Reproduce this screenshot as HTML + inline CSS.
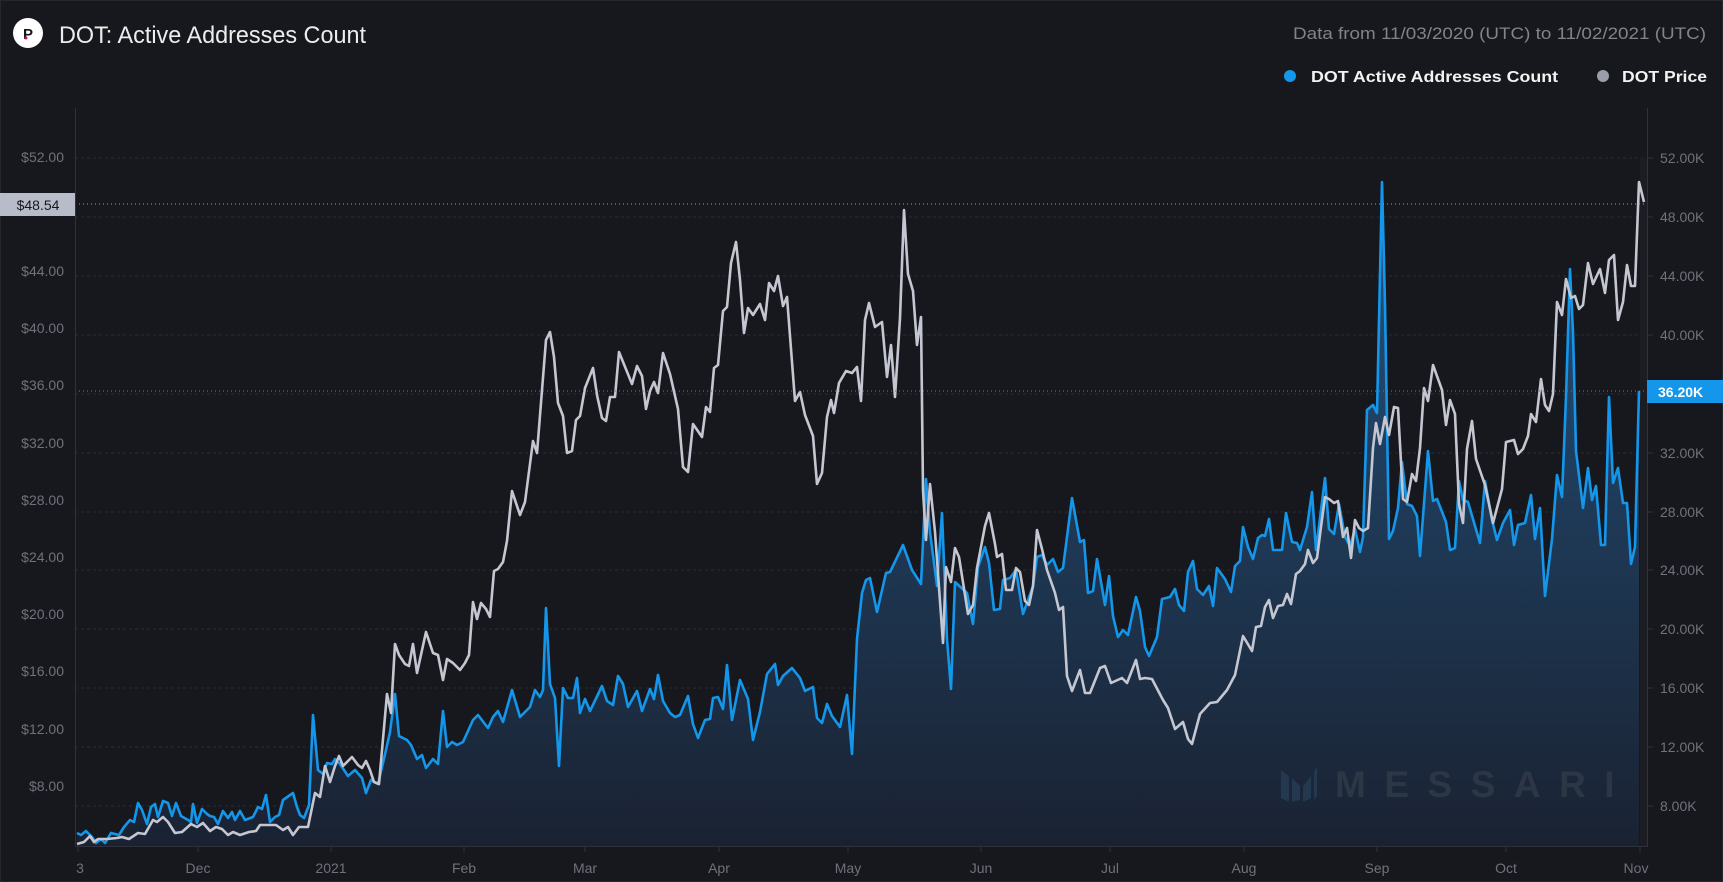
<!DOCTYPE html>
<html><head><meta charset="utf-8"><style>
html,body{margin:0;padding:0;background:#17181d;}
svg{display:block;}
text{font-family:"Liberation Sans",sans-serif;}
</style></head><body>
<svg width="1723" height="882" viewBox="0 0 1723 882" xmlns="http://www.w3.org/2000/svg">
<defs>
<linearGradient id="fg" x1="0" y1="160" x2="0" y2="846" gradientUnits="userSpaceOnUse">
<stop offset="0" stop-color="#245584"/>
<stop offset="0.45" stop-color="#1f3d5c"/>
<stop offset="1" stop-color="#1a2232"/>
</linearGradient>
</defs>
<rect x="0" y="0" width="1723" height="882" fill="#17181d"/>
<rect x="0.5" y="0.5" width="1722" height="881" fill="none" stroke="#25272e"/>

<!-- header -->
<circle cx="28" cy="33" r="15" fill="#ffffff"/>
<text x="28" y="39" font-size="15" font-weight="bold" fill="#17181d" text-anchor="middle">P</text>
<circle cx="26" cy="38" r="1.5" fill="#e6007a"/>
<text x="59" y="43" font-size="24" fill="#ececec" textLength="307" lengthAdjust="spacingAndGlyphs">DOT: Active Addresses Count</text>
<text x="1706" y="39" font-size="17" fill="#7f838c" text-anchor="end" textLength="413" lengthAdjust="spacingAndGlyphs">Data from 11/03/2020 (UTC) to 11/02/2021 (UTC)</text>
<circle cx="1290" cy="76" r="6" fill="#1496ea"/>
<text x="1311" y="82" font-size="16" font-weight="bold" fill="#f2f2f2" textLength="247" lengthAdjust="spacingAndGlyphs">DOT Active Addresses Count</text>
<circle cx="1603" cy="76" r="6" fill="#9a9eaa"/>
<text x="1622" y="82" font-size="16" font-weight="bold" fill="#f2f2f2" textLength="85" lengthAdjust="spacingAndGlyphs">DOT Price</text>

<!-- grid -->
<g stroke="#2a2d35" stroke-width="1" stroke-dasharray="3,3">
<line x1="75" y1="158" x2="1647" y2="158"/>
<line x1="75" y1="217" x2="1647" y2="217"/>
<line x1="75" y1="276" x2="1647" y2="276"/>
<line x1="75" y1="335" x2="1647" y2="335"/>
<line x1="75" y1="394" x2="1647" y2="394"/>
<line x1="75" y1="453" x2="1647" y2="453"/>
<line x1="75" y1="512" x2="1647" y2="512"/>
<line x1="75" y1="570" x2="1647" y2="570"/>
<line x1="75" y1="629" x2="1647" y2="629"/>
<line x1="75" y1="688" x2="1647" y2="688"/>
<line x1="75" y1="747" x2="1647" y2="747"/>
<line x1="75" y1="806" x2="1647" y2="806"/>
</g>

<!-- area -->
<polygon fill="url(#fg)" points="77,846 77,833 81,835 86,831 92,837 96,843 101,839 105,843 111,833 119,835 124,827 130,820 134,822 138,803 142,810 147,824 151,807 155,804 158,817 163,801 168,803 172,816 176,803 181,816 188,820 191,822 193,804 197,823 202,809 207,814 210,816 214,817 218,824 223,811 228,818 232,812 235,820 240,811 245,820 253,817 258,807 262,809 266,795 270,822 275,817 279,815 283,800 293,793 297,807 300,815 304,818 309,805 313,715 318,770 323,774 327,763 332,764 335,759 340,764 348,776 355,770 362,778 366,793 371,780 378,784 383,763 390,732 395,694 399,736 407,740 411,745 417,759 422,755 426,768 433,759 438,764 443,711 447,747 452,742 457,745 463,742 473,720 478,715 488,728 493,717 498,711 503,722 512,690 520,717 530,707 535,690 540,697 543,690 546,608 550,684 555,698 559,766 563,688 568,698 573,698 577,678 580,713 585,699 590,711 602,686 607,701 613,705 618,676 623,684 628,707 637,691 642,711 650,689 654,699 658,675 663,701 670,713 675,717 680,715 688,696 693,724 698,738 705,720 710,719 713,698 718,697 723,709 727,665 732,720 740,680 748,699 753,740 760,712 767,674 775,664 778,685 783,676 792,668 800,678 805,691 813,687 817,718 822,723 827,704 832,716 840,727 847,695 852,754 857,639 862,593 866,580 870,578 877,612 886,573 890,572 903,545 912,570 921,584 926,479 930,532 937,586 942,513 947,639 951,689 955,582 967,593 973,624 978,567 985,547 989,563 994,610 1000,609 1003,580 1010,578 1016,570 1023,614 1033,586 1037,557 1042,555 1047,565 1053,559 1058,572 1063,568 1072,498 1080,542 1084,540 1088,593 1093,591 1097,559 1105,605 1109,576 1113,616 1118,637 1123,630 1128,635 1136,597 1140,611 1145,647 1149,656 1157,637 1162,599 1170,597 1175,589 1179,605 1184,611 1188,572 1193,561 1197,589 1203,595 1209,586 1213,606 1217,568 1225,579 1231,592 1235,566 1240,561 1243,527 1248,547 1253,559 1258,538 1262,535 1265,536 1269,519 1273,550 1282,550 1286,513 1292,542 1297,543 1300,550 1307,527 1312,492 1316,550 1321,510 1325,478 1329,529 1334,534 1339,504 1345,537 1350,546 1355,529 1360,552 1363,537 1367,410 1373,405 1377,413 1382,182 1385,305 1389,539 1393,531 1398,508 1402,462 1407,504 1412,506 1417,516 1420,556 1428,451 1433,501 1437,499 1446,522 1450,550 1455,548 1459,481 1463,500 1468,502 1480,543 1485,481 1492,520 1497,540 1503,523 1510,510 1514,545 1518,525 1525,523 1531,495 1535,539 1540,508 1545,596 1552,539 1557,475 1562,497 1566,397 1570,269 1573,332 1576,451 1583,508 1588,468 1592,500 1596,486 1601,545 1605,545 1609,397 1613,483 1618,468 1623,503 1627,503 1631,564 1635,547 1639,391 1639,846"/>
<rect x="1640" y="158" width="7" height="688" fill="#1b1d23"/>

<!-- watermark -->
<g fill="#263a52" opacity="0.9">
<polygon points="1281,770 1289,776 1289,802 1281,798"/>
<polygon points="1292,778 1300,786 1300,800 1292,802"/>
<polygon points="1303,786 1311,776 1311,798 1303,802"/>
<polygon points="1314,772 1317,766 1317,796 1314,800"/>
</g>
<text x="1335" y="797" font-size="37" font-weight="bold" fill="#2c3645" letter-spacing="18.5">MESSARI</text>

<!-- blue line -->
<polyline fill="none" stroke="#1496ea" stroke-width="2.6" stroke-linejoin="round" points="77,833 81,835 86,831 92,837 96,843 101,839 105,843 111,833 119,835 124,827 130,820 134,822 138,803 142,810 147,824 151,807 155,804 158,817 163,801 168,803 172,816 176,803 181,816 188,820 191,822 193,804 197,823 202,809 207,814 210,816 214,817 218,824 223,811 228,818 232,812 235,820 240,811 245,820 253,817 258,807 262,809 266,795 270,822 275,817 279,815 283,800 293,793 297,807 300,815 304,818 309,805 313,715 318,770 323,774 327,763 332,764 335,759 340,764 348,776 355,770 362,778 366,793 371,780 378,784 383,763 390,732 395,694 399,736 407,740 411,745 417,759 422,755 426,768 433,759 438,764 443,711 447,747 452,742 457,745 463,742 473,720 478,715 488,728 493,717 498,711 503,722 512,690 520,717 530,707 535,690 540,697 543,690 546,608 550,684 555,698 559,766 563,688 568,698 573,698 577,678 580,713 585,699 590,711 602,686 607,701 613,705 618,676 623,684 628,707 637,691 642,711 650,689 654,699 658,675 663,701 670,713 675,717 680,715 688,696 693,724 698,738 705,720 710,719 713,698 718,697 723,709 727,665 732,720 740,680 748,699 753,740 760,712 767,674 775,664 778,685 783,676 792,668 800,678 805,691 813,687 817,718 822,723 827,704 832,716 840,727 847,695 852,754 857,639 862,593 866,580 870,578 877,612 886,573 890,572 903,545 912,570 921,584 926,479 930,532 937,586 942,513 947,639 951,689 955,582 967,593 973,624 978,567 985,547 989,563 994,610 1000,609 1003,580 1010,578 1016,570 1023,614 1033,586 1037,557 1042,555 1047,565 1053,559 1058,572 1063,568 1072,498 1080,542 1084,540 1088,593 1093,591 1097,559 1105,605 1109,576 1113,616 1118,637 1123,630 1128,635 1136,597 1140,611 1145,647 1149,656 1157,637 1162,599 1170,597 1175,589 1179,605 1184,611 1188,572 1193,561 1197,589 1203,595 1209,586 1213,606 1217,568 1225,579 1231,592 1235,566 1240,561 1243,527 1248,547 1253,559 1258,538 1262,535 1265,536 1269,519 1273,550 1282,550 1286,513 1292,542 1297,543 1300,550 1307,527 1312,492 1316,550 1321,510 1325,478 1329,529 1334,534 1339,504 1345,537 1350,546 1355,529 1360,552 1363,537 1367,410 1373,405 1377,413 1382,182 1385,305 1389,539 1393,531 1398,508 1402,462 1407,504 1412,506 1417,516 1420,556 1428,451 1433,501 1437,499 1446,522 1450,550 1455,548 1459,481 1463,500 1468,502 1480,543 1485,481 1492,520 1497,540 1503,523 1510,510 1514,545 1518,525 1525,523 1531,495 1535,539 1540,508 1545,596 1552,539 1557,475 1562,497 1566,397 1570,269 1573,332 1576,451 1583,508 1588,468 1592,500 1596,486 1601,545 1605,545 1609,397 1613,483 1618,468 1623,503 1627,503 1631,564 1635,547 1639,391"/>

<!-- price line -->
<polyline fill="none" stroke="#c4c7d2" stroke-width="2.6" stroke-linejoin="round" points="77,844 84,842 90,836 94,842 98,839 107,839 117,838 122,837 129,839 138,833 145,834 153,820 157,822 163,817 168,822 175,833 182,832 191,824 197,827 203,823 210,831 216,827 222,829 228,835 233,832 240,835 249,832 256,831 260,825 276,825 283,830 288,827 293,835 299,827 308,827 315,793 320,797 325,766 330,782 335,766 339,756 343,766 352,757 358,765 362,768 366,761 370,770 374,782 379,784 387,694 391,713 395,644 399,655 405,664 409,666 413,644 417,673 426,632 433,653 438,655 443,680 447,659 453,663 460,670 465,663 469,655 473,602 477,619 481,603 486,609 490,617 494,571 498,569 503,562 507,541 512,491 520,515 525,502 533,441 537,453 546,340 550,332 554,357 558,403 563,416 567,453 572,451 576,420 580,416 585,388 593,368 597,395 602,418 606,421 610,397 615,397 619,352 632,384 637,366 642,376 646,409 650,391 654,382 658,393 663,353 670,374 678,409 683,467 688,472 693,424 702,437 706,407 710,412 714,368 718,365 723,311 727,307 731,263 736,242 740,280 744,333 748,308 753,315 760,304 765,320 769,283 774,291 778,276 783,306 787,297 795,401 800,392 805,415 813,436 817,484 822,473 827,417 831,400 834,413 839,383 846,371 852,373 857,367 861,401 865,320 869,303 875,327 882,322 887,377 891,345 895,397 900,318 904,210 908,274 913,291 917,345 921,317 923,490 926,540 930,484 935,532 943,643 946,567 951,582 955,548 959,557 968,614 973,605 977,568 985,526 989,513 995,544 997,557 1002,554 1006,590 1012,590 1016,568 1020,572 1025,601 1029,605 1033,586 1037,530 1042,549 1047,570 1055,593 1059,610 1063,607 1067,676 1072,691 1080,670 1085,693 1090,693 1100,668 1105,666 1111,683 1122,678 1127,683 1136,660 1140,679 1145,678 1152,679 1163,700 1168,708 1175,729 1183,722 1188,739 1192,744 1200,714 1210,703 1217,702 1227,690 1235,675 1243,636 1252,651 1256,627 1261,626 1265,607 1269,600 1273,618 1278,606 1283,605 1287,594 1291,604 1296,574 1300,571 1305,564 1308,550 1313,563 1317,558 1321,527 1325,497 1329,499 1334,503 1338,501 1343,537 1347,528 1351,558 1355,520 1359,528 1363,531 1368,528 1373,448 1376,423 1380,444 1385,417 1389,435 1394,407 1398,408 1403,499 1407,502 1412,474 1416,481 1420,448 1424,388 1428,401 1433,365 1442,390 1446,425 1450,400 1455,414 1459,504 1463,523 1467,449 1472,421 1476,459 1485,485 1493,523 1502,489 1506,442 1514,440 1518,454 1523,449 1528,436 1531,414 1536,422 1541,379 1545,405 1549,411 1553,394 1557,302 1562,315 1566,279 1571,298 1575,296 1579,309 1583,305 1588,263 1593,284 1600,269 1605,293 1609,260 1614,255 1618,320 1623,302 1627,265 1631,286 1635,286 1639,182 1644,202"/>

<!-- current value lines -->
<line x1="75" y1="204" x2="1647" y2="204" stroke="#9a9eaa" stroke-width="1" stroke-dasharray="1,3"/>
<line x1="75" y1="391" x2="1647" y2="391" stroke="#1496ea" stroke-width="1" stroke-dasharray="1,3"/>

<!-- axes -->
<line x1="75.5" y1="108" x2="75.5" y2="846" stroke="#2f323a"/>
<line x1="1647.5" y1="108" x2="1647.5" y2="846" stroke="#2f323a"/>
<line x1="75" y1="846.5" x2="1648" y2="846.5" stroke="#2f323a"/>

<g font-size="14" fill="#6e727c" text-anchor="end">
<text x="64" y="162">$52.00</text>
<text x="64" y="276">$44.00</text>
<text x="64" y="333">$40.00</text>
<text x="64" y="390">$36.00</text>
<text x="64" y="448">$32.00</text>
<text x="64" y="505">$28.00</text>
<text x="64" y="562">$24.00</text>
<text x="64" y="619">$20.00</text>
<text x="64" y="676">$16.00</text>
<text x="64" y="734">$12.00</text>
<text x="64" y="791">$8.00</text>
</g>
<rect x="0" y="193" width="75" height="23" fill="#b8bcc8"/>
<text x="38" y="210" font-size="14" fill="#17181d" text-anchor="middle">$48.54</text>

<g font-size="14" fill="#6e727c">
<text x="1660" y="163">52.00K</text>
<text x="1660" y="222">48.00K</text>
<text x="1660" y="281">44.00K</text>
<text x="1660" y="340">40.00K</text>
<text x="1660" y="458">32.00K</text>
<text x="1660" y="517">28.00K</text>
<text x="1660" y="575">24.00K</text>
<text x="1660" y="634">20.00K</text>
<text x="1660" y="693">16.00K</text>
<text x="1660" y="752">12.00K</text>
<text x="1660" y="811">8.00K</text>
</g>
<g stroke="#2f323a"><line x1="1647" y1="158" x2="1653" y2="158"/><line x1="1647" y1="217" x2="1653" y2="217"/><line x1="1647" y1="276" x2="1653" y2="276"/><line x1="1647" y1="335" x2="1653" y2="335"/><line x1="1647" y1="453" x2="1653" y2="453"/><line x1="1647" y1="512" x2="1653" y2="512"/><line x1="1647" y1="570" x2="1653" y2="570"/><line x1="1647" y1="629" x2="1653" y2="629"/><line x1="1647" y1="688" x2="1653" y2="688"/><line x1="1647" y1="747" x2="1653" y2="747"/><line x1="1647" y1="806" x2="1653" y2="806"/></g>
<rect x="1647" y="380" width="76" height="23" fill="#1496ea"/>
<text x="1658" y="397" font-size="14" font-weight="bold" fill="#ffffff">36.20K</text>

<g stroke="#2f323a"><line x1="78" y1="846" x2="78" y2="852"/><line x1="198" y1="846" x2="198" y2="852"/><line x1="331" y1="846" x2="331" y2="852"/><line x1="464" y1="846" x2="464" y2="852"/><line x1="585" y1="846" x2="585" y2="852"/><line x1="719" y1="846" x2="719" y2="852"/><line x1="848" y1="846" x2="848" y2="852"/><line x1="981" y1="846" x2="981" y2="852"/><line x1="1110" y1="846" x2="1110" y2="852"/><line x1="1244" y1="846" x2="1244" y2="852"/><line x1="1377" y1="846" x2="1377" y2="852"/><line x1="1506" y1="846" x2="1506" y2="852"/><line x1="1640" y1="846" x2="1640" y2="852"/></g>
<g font-size="14" fill="#6e727c" text-anchor="middle">
<text x="80" y="873">3</text>
<text x="198" y="873">Dec</text>
<text x="331" y="873">2021</text>
<text x="464" y="873">Feb</text>
<text x="585" y="873">Mar</text>
<text x="719" y="873">Apr</text>
<text x="848" y="873">May</text>
<text x="981" y="873">Jun</text>
<text x="1110" y="873">Jul</text>
<text x="1244" y="873">Aug</text>
<text x="1377" y="873">Sep</text>
<text x="1506" y="873">Oct</text>
<text x="1636" y="873">Nov</text>
</g>
</svg>
</body></html>
